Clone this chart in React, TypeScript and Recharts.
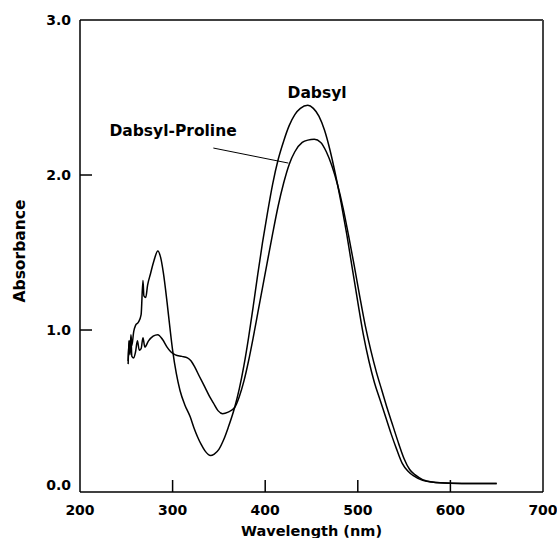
import React from 'react';
import { LineChart, Line, XAxis, YAxis, ReferenceLine, ReferenceDot } from 'recharts';

const xTicks = [200, 300, 400, 500, 600, 700];
const yTicks = [0, 1, 2, 3];

const dabsylWl = [
  252, 253, 254, 255, 256, 258, 260, 263, 266, 268, 269, 271, 273, 276, 280, 284, 287, 290, 294, 297,
  300, 304, 308, 313, 319, 323, 327, 331, 335, 341, 345, 350, 355, 360, 367, 372, 377, 382, 387, 392,
  397, 402, 408, 414, 420, 426, 432, 438, 446, 452, 458, 464, 470, 476, 482, 488, 494, 500, 506, 512,
  518, 524, 530, 536, 542, 548, 554, 560, 570, 580, 600, 625, 650,
];
const dabsylAbs = [
  0.8, 0.93, 0.86, 0.97, 0.9, 0.99, 1.03, 1.05, 1.1, 1.32, 1.22, 1.21, 1.29, 1.36, 1.45, 1.51, 1.47, 1.37, 1.18, 1.02,
  0.87, 0.72, 0.61, 0.52, 0.44, 0.37, 0.31, 0.26, 0.22, 0.19, 0.2, 0.23, 0.29, 0.37, 0.5, 0.62, 0.77, 0.95, 1.15, 1.36,
  1.56, 1.74, 1.94, 2.1, 2.22, 2.32, 2.39, 2.43, 2.45, 2.43, 2.38, 2.29, 2.16, 2.0, 1.82, 1.62, 1.4, 1.18, 0.97, 0.8,
  0.66, 0.55, 0.44, 0.33, 0.23, 0.14, 0.09, 0.06, 0.03, 0.02, 0.012, 0.01, 0.01,
];

const prolineWl = [
  252, 253, 254, 255, 256, 258, 260, 262, 264, 266, 268, 270, 274, 279, 284, 289, 294, 298, 303, 310,
  316, 320, 324, 329, 335, 340, 344, 349, 354, 360, 367, 372, 377, 382, 387, 392, 397, 402, 408, 414,
  420, 426, 432, 440, 446, 453, 460, 466, 472, 478, 484, 490, 496, 502, 508, 514, 520, 526, 532, 538,
  544, 550, 556, 562, 570, 580, 600, 625, 650,
];
const prolineAbs = [
  0.78, 0.93, 0.84, 0.95, 0.83, 0.82, 0.86, 0.93, 0.87, 0.88, 0.95, 0.89, 0.93, 0.96, 0.97, 0.94, 0.89, 0.86, 0.84, 0.83,
  0.82, 0.8, 0.76, 0.7, 0.63, 0.57, 0.53, 0.48, 0.46, 0.47, 0.5, 0.57, 0.67, 0.8, 0.95, 1.11, 1.27, 1.43, 1.62, 1.8,
  1.95, 2.07, 2.15, 2.21, 2.225, 2.23, 2.21, 2.15, 2.06, 1.94, 1.79, 1.61, 1.42, 1.22, 1.03, 0.87, 0.73, 0.61, 0.49, 0.38,
  0.27, 0.17, 0.1, 0.065, 0.035, 0.02, 0.012, 0.01, 0.01,
];

const dabsylData = dabsylWl.map((wl, i) => ({ wl, abs: dabsylAbs[i] }));
const prolineData = prolineWl.map((wl, i) => ({ wl, abs: prolineAbs[i] }));

const font = { fontFamily: '"DejaVu Sans", Arial, sans-serif', fontWeight: 'bold' as const, fill: '#000' };

const YTick = ({ x, y, payload }: any) => (
  <g>
    {payload.value > 0 && payload.value < 3 && (
      <line x1={x} x2={x + 12} y1={y} y2={y} stroke="#000" strokeWidth={1.5} />
    )}
    <text x={x - 9} y={y} dy="0.36em" textAnchor="end" fontSize={14} {...font}>
      {payload.value.toFixed(1)}
    </text>
  </g>
);

const XTick = ({ x, y, payload }: any) => (
  <g>
    {payload.value > 200 && payload.value < 700 && (
      <line x1={x} x2={x} y1={y} y2={y - 12} stroke="#000" strokeWidth={1.5} />
    )}
    <text x={x} y={y + 23} textAnchor="middle" fontSize={14} {...font}>
      {payload.value}
    </text>
  </g>
);

const annot = (text: string) => (props: any) => {
  const vb = props.viewBox;
  return (
    <text
      x={vb.x + vb.width / 2}
      y={vb.y + vb.height / 2}
      dy="0.36em"
      textAnchor="middle"
      fontSize={15.5}
      {...font}
    >
      {text}
    </text>
  );
};

const App: React.FC = () => {
  return (
    <div style={{ width: 557, height: 538 }}>
      <style>{'body{margin:0}'}</style>
      <LineChart width={557} height={538} margin={{ top: 20, right: 14, bottom: 0, left: 35 }}>
        <XAxis
          dataKey="wl"
          type="number"
          domain={[200, 700]}
          ticks={xTicks}
          height={46}
          tickSize={0}
          tickMargin={0}
          tickLine={false}
          axisLine={{ stroke: '#000', strokeWidth: 1.5 }}
          tick={<XTick />}
          allowDataOverflow
          label={(props: any) => {
            const vb = props.viewBox;
            return (
              <text x={vb.x + vb.width / 2} y={vb.y + 44} textAnchor="middle" fontSize={14.5} {...font}>
                Wavelength (nm)
              </text>
            );
          }}
        />
        <YAxis
          dataKey="abs"
          type="number"
          domain={[-0.045, 3]}
          ticks={yTicks}
          width={45}
          tickSize={0}
          tickMargin={0}
          tickLine={false}
          axisLine={{ stroke: '#000', strokeWidth: 1.5 }}
          tick={<YTick />}
          allowDataOverflow
          label={(props: any) => {
            const vb = props.viewBox;
            const cx = vb.x - 10;
            const cy = vb.y + vb.height / 2 - 5;
            return (
              <text x={cx} y={cy} transform={`rotate(-90, ${cx}, ${cy})`} textAnchor="middle" fontSize={15.5} {...font}>
                Absorbance
              </text>
            );
          }}
        />
        <ReferenceLine y={3} stroke="#000" strokeWidth={1.5} />
        <ReferenceLine x={700} stroke="#444" strokeWidth={2} />
        <ReferenceLine
          segment={[
            { x: 344, y: 2.174 },
            { x: 425, y: 2.077 },
          ]}
          stroke="#000"
          strokeWidth={1}
        />
        <ReferenceDot x={456} y={2.535} r={0} fill="none" stroke="none" label={annot('Dabsyl')} />
        <ReferenceDot x={300.5} y={2.29} r={0} fill="none" stroke="none" label={annot('Dabsyl-Proline')} />
        <Line
          data={dabsylData}
          dataKey="abs"
          type="monotone"
          stroke="#000"
          strokeWidth={1.5}
          dot={false}
          isAnimationActive={false}
        />
        <Line
          data={prolineData}
          dataKey="abs"
          type="monotone"
          stroke="#000"
          strokeWidth={1.5}
          dot={false}
          isAnimationActive={false}
        />
      </LineChart>
    </div>
  );
};

export default App;
